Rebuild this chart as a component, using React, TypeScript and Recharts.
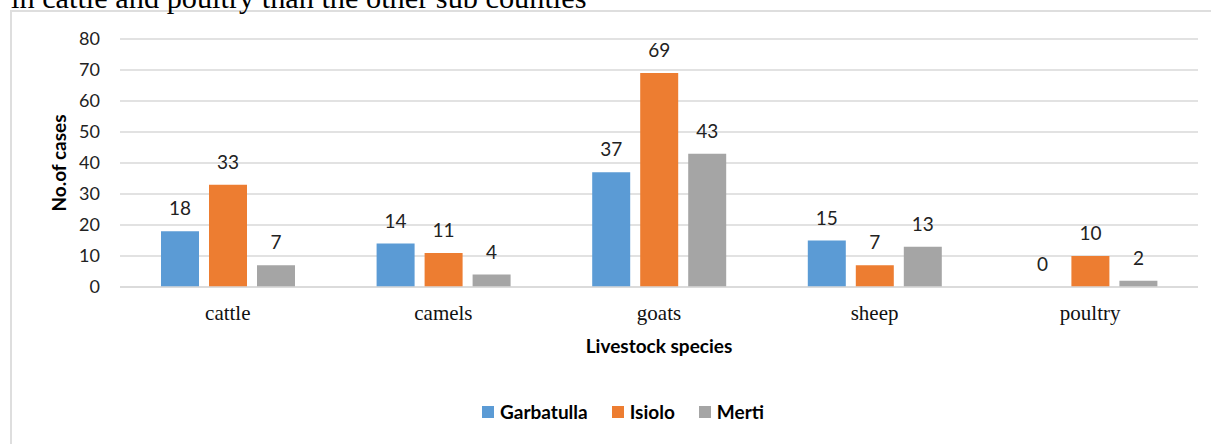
import React from 'react';
import { BarChart, Bar, XAxis, YAxis, CartesianGrid, Legend, LabelList } from 'recharts';

const categories = ['cattle', 'camels', 'goats', 'sheep', 'poultry'];
const garbatulla = [18, 14, 37, 15, 0];
const isiolo = [33, 11, 69, 7, 10];
const merti = [7, 4, 43, 13, 2];
const seriesNames = ['Garbatulla', 'Isiolo', 'Merti'];
const yTicks = [0, 10, 20, 30, 40, 50, 60, 70, 80];
const captionText = 'in cattle and poultry than the other sub counties';
const xTitle = 'Livestock species';
const yTitle = 'No.of cases';

const colors = ['#5B9BD5', '#ED7D31', '#A5A5A5'];
const sans = 'Lato, "Open Sans", sans-serif';
const serif = '"Liberation Serif", "Times New Roman", serif';

const data = categories.map((c, i) => ({
  name: c,
  [seriesNames[0]]: garbatulla[i],
  [seriesNames[1]]: isiolo[i],
  [seriesNames[2]]: merti[i],
}));

const renderLegend = (props: any) => {
  const { payload } = props;
  return (
    <div style={{ display: 'flex', justifyContent: 'center', alignItems: 'center', fontFamily: sans, fontWeight: 700, fontSize: 19, color: '#000' }}>
      {payload.map((p: any, i: number) => (
        <div key={i} style={{ display: 'flex', alignItems: 'center', marginRight: i < payload.length - 1 ? 24 : 0 }}>
          <div style={{ width: 12, height: 12, background: p.color, marginRight: 6 }} />
          <span>{p.value}</span>
        </div>
      ))}
    </div>
  );
};

const YTitle = (props: any) => {
  const { viewBox } = props;
  const cx = viewBox.x + 58;
  const cy = viewBox.y + viewBox.height / 2;
  return (
    <text x={cx} y={cy} transform={`rotate(-90 ${cx} ${cy})`} textAnchor="middle" dominantBaseline="central"
      fontFamily={sans} fontWeight={700} fontSize={19} fill="#000">{yTitle}</text>
  );
};

const XTitle = (props: any) => {
  const { viewBox } = props;
  const cx = viewBox.x + viewBox.width / 2;
  return (
    <text x={cx} y={353} textAnchor="middle" fontFamily={sans} fontWeight={700} fontSize={19} fill="#000">{xTitle}</text>
  );
};

export default function App() {
  return (
    <div style={{ position: 'absolute', left: 0, top: 0, width: 1211, height: 444, overflow: 'hidden', background: '#fff' }}>
      <div style={{ position: 'absolute', left: 10, top: 10, width: 1300, height: 600, border: '2px solid #dedede', boxSizing: 'border-box' }} />
      <svg width={1211} height={20} style={{ position: 'absolute', left: 0, top: 0 }}>
        <text x={11} y={7.5} fontFamily={serif} fontSize={30.3} fill="#000">{captionText}</text>
      </svg>
      <div style={{ position: 'absolute', left: 0, top: 0 }}>
        <BarChart width={1211} height={444} data={data} margin={{ top: 39, right: 13, bottom: 127, left: 0 }}
          barCategoryGap={41} barGap={10}>
          <CartesianGrid vertical={false} stroke="#d9d9d9" strokeWidth={1.5} />
          <XAxis dataKey="name" height={30} tickLine={false} tickSize={0} tickMargin={18}
            axisLine={{ stroke: '#d9d9d9', strokeWidth: 1.5 }}
            tick={{ fontFamily: serif, fontSize: 21, fill: '#111' }}
            label={<XTitle />} />
          <YAxis width={120} domain={[0, 80]} ticks={yTicks} interval={0} axisLine={false} tickLine={false}
            tickSize={0} tickMargin={20}
            tick={{ fontFamily: sans, fontSize: 18, fill: '#222' }}
            label={<YTitle />} />
          <Legend verticalAlign="middle" content={renderLegend}
            wrapperStyle={{ left: 0, top: 400, width: 1246, height: 24 }} />
          {seriesNames.map((s, i) => (
            <Bar key={s} dataKey={s} fill={colors[i]} isAnimationActive={false} minPointSize={0.01}>
              <LabelList dataKey={s} position="top" offset={16}
                style={{ fontFamily: sans, fontSize: 19, fill: '#222' }} />
            </Bar>
          ))}
        </BarChart>
      </div>
    </div>
  );
}
